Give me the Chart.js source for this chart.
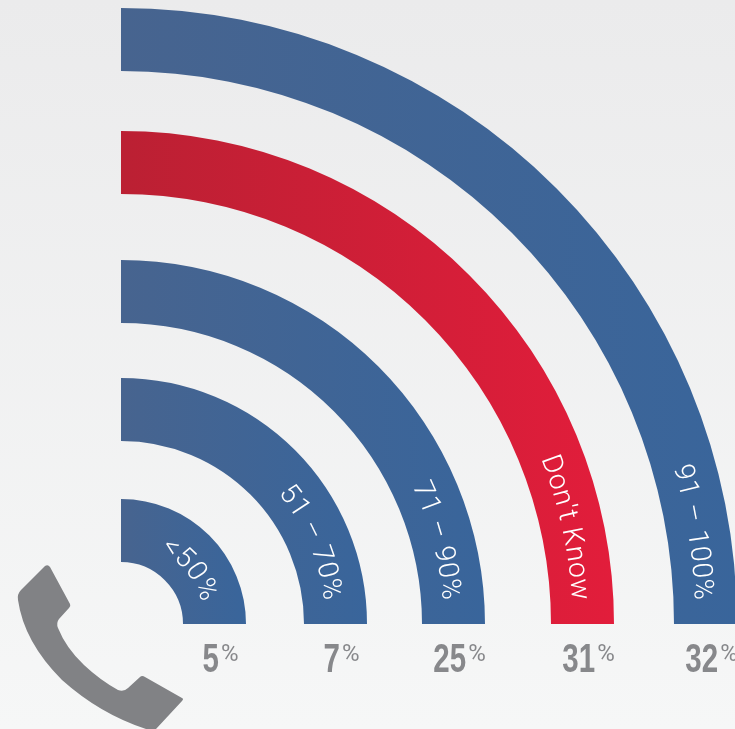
<!DOCTYPE html>
<html>
<head>
<meta charset="utf-8">
<title>Phone signal chart</title>
<script src="https://cdn.jsdelivr.net/npm/chart.js@4"></script>
<style>
    html, body { margin: 0; padding: 0; width: 735px; height: 729px; overflow: hidden; }
    body { background: linear-gradient(#ebebec, #f6f7f7); }
    #wrap { width: 735px; height: 729px; overflow: hidden; }
    canvas { display: block; }
</style>
</head>
<body>
<div id="wrap"><canvas id="chart" width="737" height="729"></canvas></div>
<script>
// rings, outermost first
const categories = ['91 – 100%', "Don't Know", '71 – 90%', '51 – 70%', '<50%'];
const percents = [32, 31, 25, 7, 5];
const ringColors = [
    ['#47648f', '#39659b'],
    ['#bb2033', '#e21d3b'],
    ['#47648f', '#39659b'],
    ['#47648f', '#39659b'],
    ['#47648f', '#39659b']
];

// ring thickness and the empty gap below each ring, in px
const ringWeight = 63;
const gapWeights = [60, 66, 55, 58];

const phonePath = 'M45 566 Q48 564 50 567 L70 604 Q71 606 69 608 L59 619 Q56 623 58 628 ' +
    'Q66 648 84 665 Q100 680 118 690 Q124 692 128 688 L140 677 Q142 675 145 677 L182 698 ' +
    'Q184 699 182 701 L156 729 L146 729 Q100 714 62 680 Q24 642 18 600 Q17 594 21 590 Z';

function ringGradient(ctx) {
    const chart = ctx.chart;
    const ctrl = chart.getDatasetMeta(ctx.datasetIndex).controller;
    if (!chart.chartArea || !ctrl.outerRadius) return '#39659b';
    const colors = ringColors[ctx.datasetIndex / 2];
    const x0 = chart.chartArea.left;
    const g = chart.ctx.createLinearGradient(x0, 0, x0 + ctrl.outerRadius, 0);
    g.addColorStop(0, colors[0]);
    g.addColorStop(1, colors[1]);
    return g;
}

// real rings sit on even indexes, transparent spacers between them
const datasets = [];
categories.forEach((name, i) => {
    datasets.push({ label: name, data: [percents[i]], weight: ringWeight, backgroundColor: ringGradient, borderWidth: 0 });
    if (i < gapWeights.length) {
        datasets.push({ label: '', data: [1], weight: gapWeights[i], backgroundColor: 'rgba(0,0,0,0)', borderWidth: 0 });
    }
});

const ringText = {
    id: 'ringText',
    afterDatasetsDraw(chart) {
        const ctx = chart.ctx;
        categories.forEach((name, i) => {
            const arc = chart.getDatasetMeta(i * 2).data[0];
            const mid = (arc.innerRadius + arc.outerRadius) / 2;

            // curved label, clockwise, ends just above the foot of the ring
            ctx.save();
            ctx.font = '300 28px Roboto';
            ctx.fillStyle = '#ffffff';
            ctx.textAlign = 'center';
            ctx.textBaseline = 'alphabetic';
            const base = mid - 10;
            const chars = Array.from(name);
            const widths = chars.map(c => ctx.measureText(c).width + 0.6);
            const total = widths.reduce((a, b) => a + b, 0);
            let angle = Math.asin(24 / mid) + total / base;
            chars.forEach((c, k) => {
                const a = angle - widths[k] / 2 / base;
                ctx.save();
                ctx.translate(arc.x + base * Math.cos(a), arc.y - base * Math.sin(a));
                ctx.rotate(Math.PI / 2 - a);
                ctx.fillText(c, 0, 0);
                ctx.restore();
                angle -= widths[k] / base;
            });
            ctx.restore();

            // value under the ring: condensed number plus small percent sign
            ctx.save();
            ctx.fillStyle = '#87888b';
            ctx.textAlign = 'left';
            ctx.textBaseline = 'alphabetic';
            const num = String(percents[i]);
            const numFont = 'bold 41px "Liberation Sans"';
            const pctFont = '400 24px Roboto';
            const squeeze = 0.72;
            ctx.font = numFont;
            const numW = ctx.measureText(num).width * squeeze;
            ctx.font = pctFont;
            const pctW = ctx.measureText('%').width;
            const left = arc.x + mid + 6 - (numW + 2 + pctW) / 2;
            ctx.fillText('%', left + numW + 2, 661);
            ctx.font = numFont;
            ctx.translate(left, 672);
            ctx.scale(squeeze, 1);
            ctx.fillText(num, 0, 0);
            ctx.restore();
        });

        // handset
        ctx.save();
        ctx.fillStyle = '#818285';
        ctx.fill(new Path2D(phonePath));
        ctx.restore();
    }
};

new Chart(document.getElementById('chart'), {
    type: 'doughnut',
    data: { labels: ['share'], datasets: datasets },
    options: {
        responsive: false,
        animation: false,
        rotation: 0,
        circumference: 90,
        cutout: (62 / 616 * 100) + '%',
        layout: { padding: { left: 121, top: 8, right: 0, bottom: 105 } },
        events: [],
        plugins: { legend: { display: false }, tooltip: { enabled: false } }
    },
    plugins: [ringText]
});
</script>
</body>
</html>
